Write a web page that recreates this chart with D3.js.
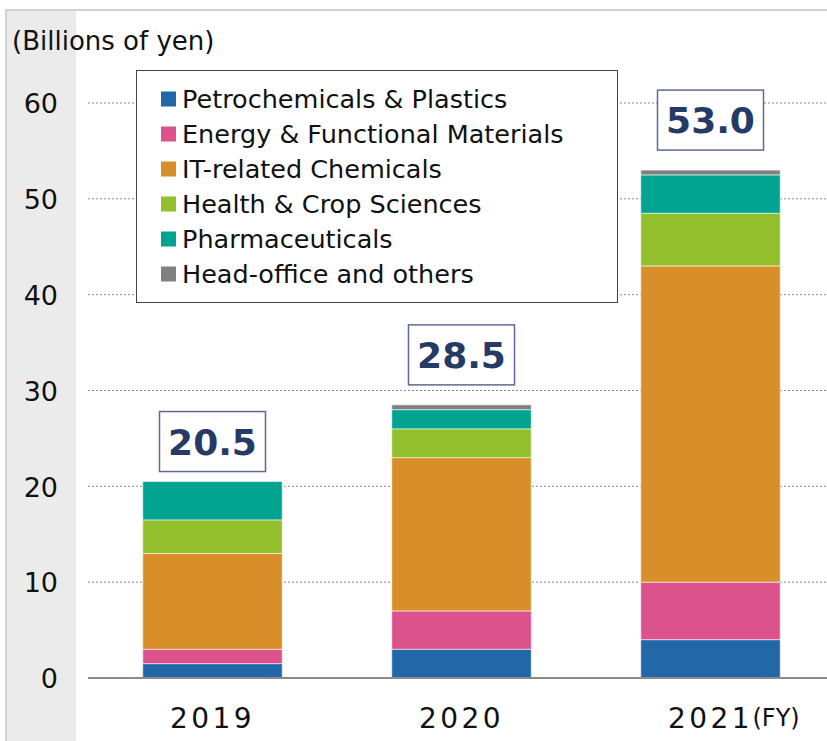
<!DOCTYPE html>
<html>
<head>
<meta charset="utf-8">
<script src="https://cdn.jsdelivr.net/npm/d3@7"></script>
<style>
  html, body { margin: 0; padding: 0; background: #fff; }
  svg { display: block; }
</style>
</head>
<body>
<svg id="chart" width="827" height="741"></svg>
<script>
// ---- data ----
const years = ["2019", "2020", "2021"];
const segments = ["Petrochemicals & Plastics", "Energy & Functional Materials", "IT-related Chemicals", "Health & Crop Sciences", "Pharmaceuticals", "Head-office and others"];
const petrochemicals = [1.5, 3.0, 4.0];
const energy = [1.5, 4.0, 6.0];
const itChemicals = [10.0, 16.0, 33.0];
const health = [3.5, 3.0, 5.5];
const pharma = [4.0, 2.0, 4.0];
const headOffice = [0.0, 0.5, 0.5];
const totals = [20.5, 28.5, 53.0];
const totalLabels = ["20.5", "28.5", "53.0"];
const yTicks = [0, 10, 20, 30, 40, 50, 60];

// ---- style ----
const colors = ["#2267a8", "#dc528c", "#d98f29", "#92bf2b", "#00a491", "#808080"];
const labelGaps = [10, 20, 20];

const svg = d3.select("#chart");
const W = 827, H = 741;
const x0 = 88, yBase = 678, yTop = 103;

// frame & left strip
svg.append("rect").attr("x", 6).attr("y", 10).attr("width", 70).attr("height", H - 10).attr("fill", "#ebebeb");
svg.append("line").attr("x1", 5).attr("x2", W).attr("y1", 10).attr("y2", 10).attr("stroke", "#d2d2d2").attr("stroke-width", 2);
svg.append("line").attr("x1", 6).attr("x2", 6).attr("y1", 10).attr("y2", H).attr("stroke", "#d2d2d2").attr("stroke-width", 2);

const x = d3.scaleBand().domain(years).range([x0, 835]).paddingInner(0.44).paddingOuter(0.22);
const y = d3.scaleLinear().domain([0, 60]).range([yBase, yTop]);

// gridlines
svg.append("g").selectAll("line").data(yTicks.filter(d => d > 0)).join("line")
  .attr("x1", x0).attr("x2", W)
  .attr("y1", d => y(d)).attr("y2", d => y(d))
  .attr("stroke", "#8c8c8c").attr("stroke-width", 1).attr("stroke-dasharray", "2,2");

// y axis labels
const yAxis = d3.axisLeft(y).tickValues(yTicks).tickSize(0).tickPadding(0).tickFormat(d3.format("d"));
const yg = svg.append("g").attr("transform", "translate(58,0)").call(yAxis);
yg.select(".domain").remove();
yg.selectAll("text").attr("font-family", "DejaVu Sans").attr("font-size", 27).attr("fill", "#111").attr("dy", "0.36em");

// unit
svg.append("text").attr("x", 12).attr("y", 50).attr("font-family", "DejaVu Sans").attr("font-size", 26).attr("fill", "#111").text("(Billions of yen)");

// stacked bars
const seriesArrays = [petrochemicals, energy, itChemicals, health, pharma, headOffice];
const table = years.map((yr, i) => {
  const o = { year: yr };
  segments.forEach((s, k) => o[s] = seriesArrays[k][i]);
  return o;
});
const stacked = d3.stack().keys(segments)(table);
const color = d3.scaleOrdinal().domain(segments).range(colors);

svg.append("g").selectAll("g").data(stacked).join("g")
  .attr("fill", d => color(d.key))
  .selectAll("rect").data(d => d).join("rect")
  .attr("x", d => x(d.data.year))
  .attr("width", x.bandwidth())
  .attr("y", d => y(d[1]))
  .attr("height", d => Math.max(0, y(d[0]) - y(d[1])))
  .attr("stroke", "#ffffff").attr("stroke-opacity", 0.55).attr("stroke-width", 1);

// baseline
svg.append("line").attr("x1", x0).attr("x2", W).attr("y1", y(0)).attr("y2", y(0)).attr("stroke", "#8a8a8a").attr("stroke-width", 2);

// x axis labels
const xAxis = d3.axisBottom(x).tickSize(0).tickPadding(0);
const xg = svg.append("g").call(xAxis);
xg.select(".domain").remove();
xg.selectAll("text").remove();
xg.selectAll(".tick").append("text")
  .attr("y", 728).attr("text-anchor", "middle")
  .attr("font-family", "DejaVu Sans").attr("font-size", 28).attr("letter-spacing", 3.5).attr("fill", "#111")
  .text(d => d);
svg.append("text").attr("x", x("2021") + x.bandwidth() / 2 + 42).attr("y", 726)
  .attr("font-family", "DejaVu Sans").attr("font-size", 24).attr("fill", "#111").text("(FY)");

// total labels
const tl = svg.append("g").selectAll("g").data(years).join("g")
  .attr("transform", (d, i) => `translate(${x(d) + x.bandwidth() / 2},${y(totals[i]) - labelGaps[i]})`);
tl.append("rect").attr("x", -53).attr("y", -60).attr("width", 106).attr("height", 60)
  .attr("fill", "#fff").attr("stroke", "#5c6b8e").attr("stroke-width", 1.5);
tl.append("text").attr("y", -17).attr("text-anchor", "middle")
  .attr("font-family", "DejaVu Sans").attr("font-weight", "bold").attr("font-size", 36).attr("fill", "#263a66")
  .text((d, i) => totalLabels[i]);

// legend
const lg = svg.append("g");
lg.append("rect").attr("x", 136.5).attr("y", 70.5).attr("width", 481).attr("height", 232)
  .attr("fill", "#fff").attr("stroke", "#444").attr("stroke-width", 1);
const li = lg.selectAll("g.item").data(segments).join("g").attr("class", "item")
  .attr("transform", (d, i) => `translate(161,${99 + i * 35})`);
li.append("rect").attr("x", 0).attr("y", -7.5).attr("width", 15).attr("height", 15).attr("fill", d => color(d));
li.append("text").attr("x", 21).attr("y", 9).attr("font-family", "DejaVu Sans").attr("font-size", 25.5).attr("fill", "#111").text(d => d);
</script>
</body>
</html>
